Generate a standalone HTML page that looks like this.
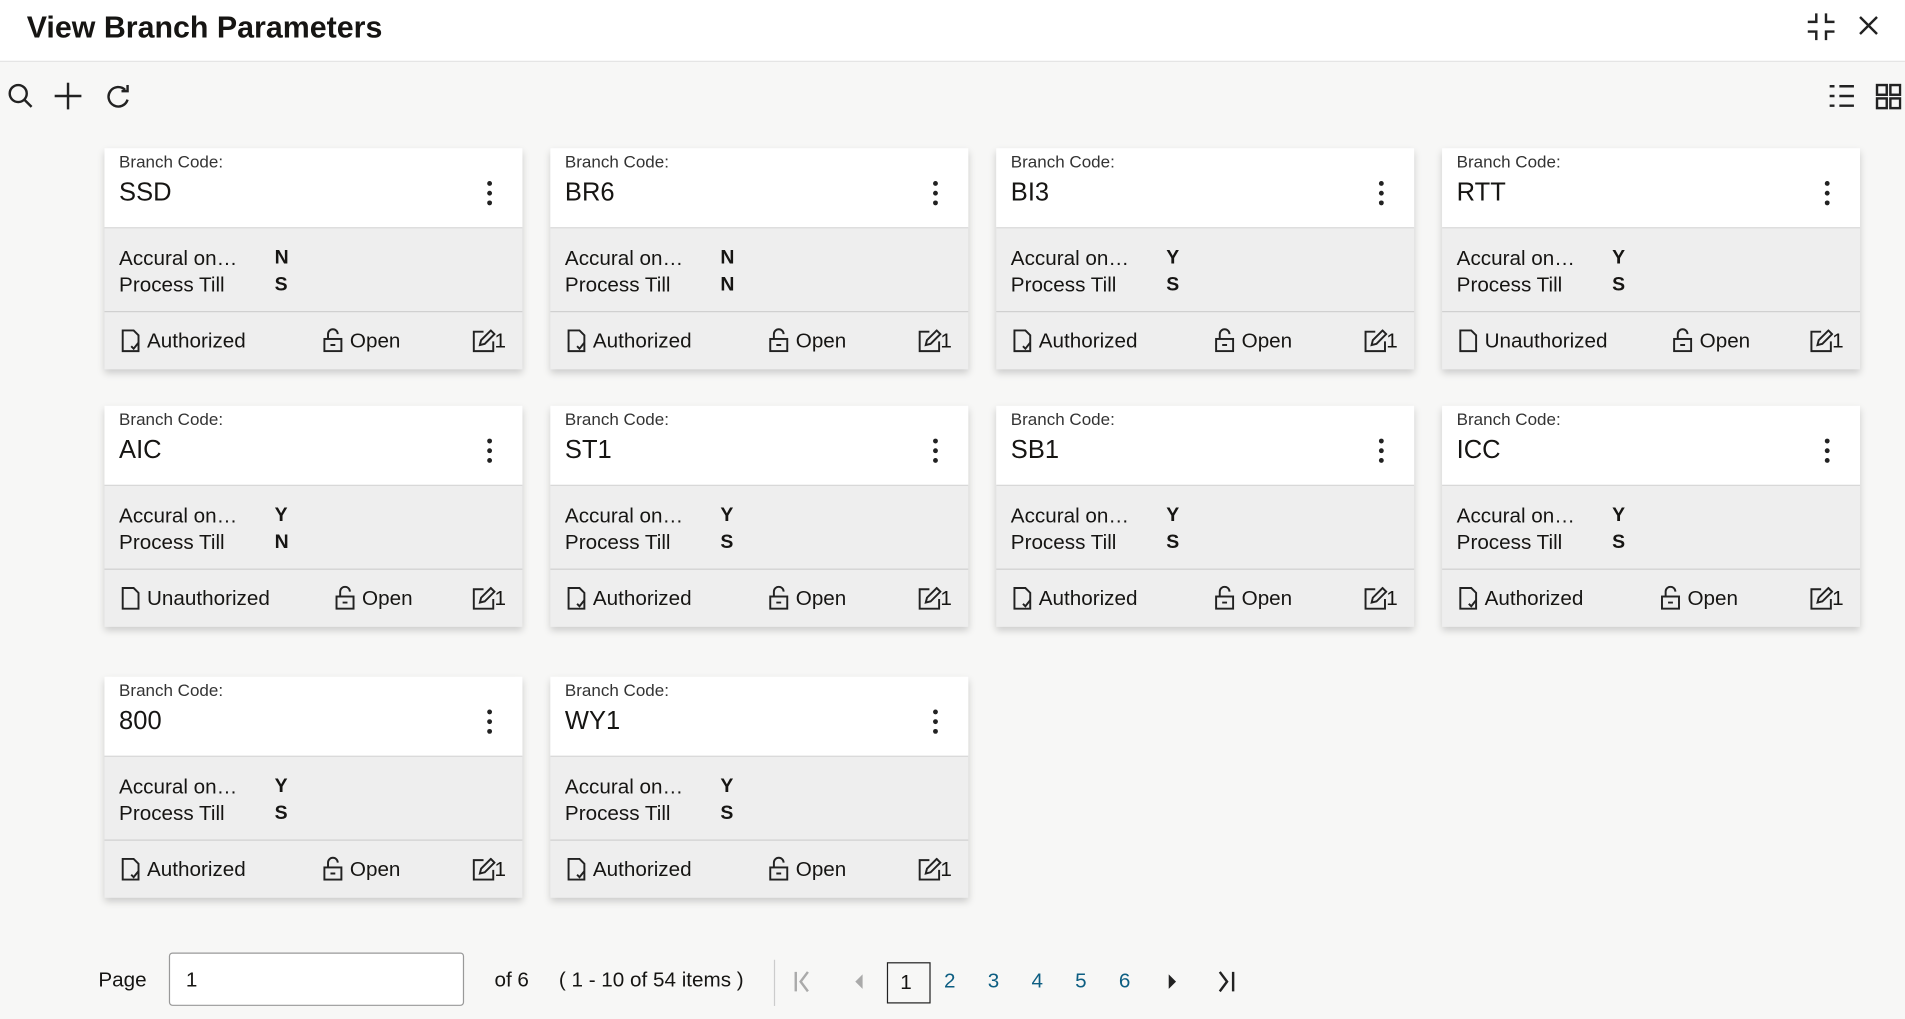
<!DOCTYPE html>
<html><head><meta charset="utf-8"><style>
html,body{margin:0;padding:0;width:1905px;height:1019px;overflow:hidden;background:#f7f7f7;font-family:"Liberation Sans",sans-serif;color:#161513}
#w{position:absolute;left:0;top:0;width:1568px;height:839px;transform:scale(1.2149);transform-origin:0 0;background:#f7f7f6}
.hdr{position:absolute;left:0;top:0;width:1568px;height:50px;background:#fff;border-bottom:1px solid #e4e4e4}
.t{position:absolute;left:22px;top:9px;font-size:25px;font-weight:bold}
.a{position:absolute}
.card{position:absolute;width:344px;height:182px;box-shadow:0 3px 6px rgba(0,0,0,.18);background:#eeeeee}
.ch{position:absolute;left:0;top:0;width:344px;height:65px;background:#fff;border-bottom:1px solid #d6d6d6}
.lb{position:absolute;left:12px;top:3px;font-size:14px;color:#333}
.cd{position:absolute;left:12px;top:25px;font-size:21px}
.kb{position:absolute;left:315px;top:27px;width:4px}
.kb i{display:block;width:4px;height:4px;border-radius:2px;background:#222;margin-bottom:4px}
.r{position:absolute;left:12px;font-size:17px}
.v{position:absolute;left:140px;font-size:16px;font-weight:bold}
.ft{position:absolute;left:0;top:134px;width:344px;height:48px;border-top:1px solid #d0d0d0}
.ft span{position:absolute;top:14px;font-size:17px}
.pg{position:absolute;font-size:17px;top:797px}
.pn{position:absolute;top:798px;font-size:17px;color:#0d5e82}
</style></head><body><div id="w">
<div class="hdr"><div class="t">View Branch Parameters</div>
<svg class="a" style="left:1486px;top:9px" width="26" height="26" viewBox="0 0 26 26" fill="none" stroke="#222" stroke-width="2"><path d="M9 2v7H2M17 2v7h7M9 24v-7H2M17 24v-7h7"/></svg>
<svg class="a" style="left:1529px;top:12px" width="18" height="18" viewBox="0 0 18 18" stroke="#222" stroke-width="2"><path d="M2 2l14 14M16 2L2 16"/></svg>
</div>
<svg class="a" style="left:5px;top:68px" width="115" height="24" viewBox="0 0 115 24" fill="none" stroke="#222" stroke-width="2"><circle cx="10" cy="9" r="7"/><path d="M15 14l6 6M51 0v22M40 11h22"/><path d="M98 6a8 8 0 1 0 2 8"/><path d="M100 2v5h-5"/></svg>
<svg class="a" style="left:1505px;top:68px" width="60" height="24" viewBox="0 0 60 24" fill="none" stroke="#222" stroke-width="2"><path d="M1 3h4M9 3h12M1 11h4M9 11h12M1 19h4M9 19h12"/><rect x="40" y="2" width="8" height="8"/><rect x="51" y="2" width="8" height="8"/><rect x="40" y="13" width="8" height="8"/><rect x="51" y="13" width="8" height="8"/></svg>

<div id="cards"></div>

<div class="pg" style="left:81px">Page</div>
<div class="a" style="left:139px;top:784px;width:241px;height:42px;background:#fff;border:1px solid #999;border-radius:3px"></div>
<div class="pg" style="left:153px">1</div>
<div class="pg" style="left:407px">of 6</div>
<div class="pg" style="left:460px">( 1 - 10 of 54 items )</div>
<div class="a" style="left:637px;top:790px;width:1px;height:38px;background:#ccc"></div>
<svg class="a" style="left:652px;top:798px" width="370" height="20" viewBox="0 0 370 20"><path d="M3 2v16M13 2L7 10l6 8" stroke="#aaa" stroke-width="2" fill="none"/><path d="M58 4L52 10l6 6z" fill="#aaa"/><path d="M310 4l6 6-6 6z" fill="#222"/><path d="M352 2l6 8-6 8M363 2v16" stroke="#222" stroke-width="2" fill="none"/></svg>
<div class="a" style="left:730px;top:792px;width:34px;height:32px;border:1px solid #222"></div>
<div class="pg" style="left:741px;top:799px">1</div>
<div class="pn" style="left:777px">2</div><div class="pn" style="left:813px">3</div><div class="pn" style="left:849px">4</div><div class="pn" style="left:885px">5</div><div class="pn" style="left:921px">6</div>
</div>
<script>
var d=[["SSD","N","S","Authorized"],["BR6","N","N","Authorized"],["BI3","Y","S","Authorized"],["RTT","Y","S","Unauthorized"],["AIC","Y","N","Unauthorized"],["ST1","Y","S","Authorized"],["SB1","Y","S","Authorized"],["ICC","Y","S","Authorized"],["800","Y","S","Authorized"],["WY1","Y","S","Authorized"]];
var xs=[86,453,820,1187],ys=[122,334,557],h="";
d.forEach(function(c,i){var x=xs[i%4],y=ys[Math.floor(i/4)];var un=c[3]=="Unauthorized";
var doc='<svg style="position:absolute;left:13px;top:14px" width="18" height="20" viewBox="0 0 18 20" fill="none" stroke="#222" stroke-width="1.6"><path d="M2 1h9l4 4v13H2z"/>'+(un?'':'<path d="M9 14l2 2 4-5"/>')+'</svg>';
var ox=un?190:180;
h+='<div class="card" style="left:'+x+'px;top:'+y+'px"><div class="ch"><div class="lb">Branch Code:</div><div class="cd">'+c[0]+'</div><div class="kb"><i></i><i></i><i></i></div></div>'+
'<div class="r" style="top:81px">Accural on…</div><div class="v" style="top:82px">'+c[1]+'</div><div class="r" style="top:103px">Process Till</div><div class="v" style="top:104px">'+c[2]+'</div>'+
'<div class="ft">'+doc+'<span style="left:35px">'+c[3]+'</span><svg style="position:absolute;left:'+ox+'px;top:13px" width="16" height="20" viewBox="0 0 16 20" fill="none" stroke="#222" stroke-width="1.6"><path d="M4 9V5a4 4 0 0 1 8 0"/><rect x="1" y="9" width="14" height="10"/><path d="M6 14h4"/></svg><span style="left:'+(ox+22)+'px">Open</span><svg style="position:absolute;left:302px;top:14px" width="20" height="20" viewBox="0 0 20 20" fill="none" stroke="#222" stroke-width="1.6"><path d="M10 2H2v16h16v-8"/><path d="M7 13l1-4 8-8 3 3-8 8z"/></svg><span style="left:321px">1</span></div></div>';});
document.getElementById("cards").innerHTML=h;
</script>
</body></html>
